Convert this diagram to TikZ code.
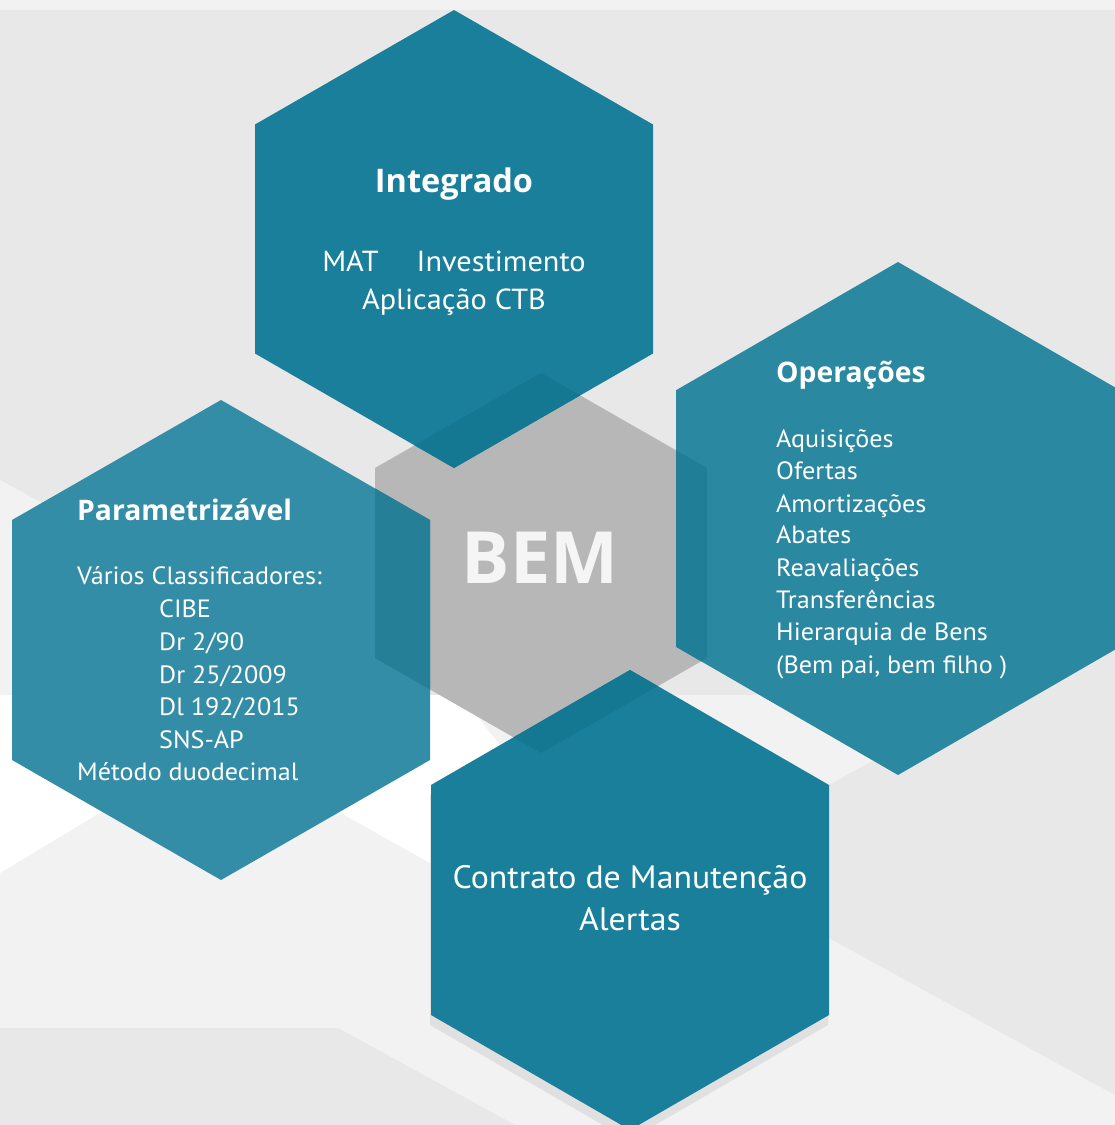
\documentclass[tikz,border=0pt]{standalone}
\usepackage{fontspec}
\setmainfont{PT Sans}[FakeStretch=1.045]
\newfontfamily\ttlfont{Open Sans}
\definecolor{bgA}{HTML}{E8E8E8}
\definecolor{bgTop}{HTML}{F2F2F2}
\definecolor{bgLight}{HTML}{F2F2F2}
\definecolor{shadowC}{HTML}{E0E0E0}
\definecolor{grayHex}{HTML}{B7B7B7}
\definecolor{tealA}{HTML}{1A7F9A}
\definecolor{tealAd}{HTML}{147893}
\definecolor{tealL}{HTML}{348DA7}
\definecolor{tealLd}{HTML}{247F97}
\definecolor{tealR}{HTML}{2A88A1}
\definecolor{tealRd}{HTML}{207F97}
\definecolor{bemText}{HTML}{F5F5F5}
\newcommand{\hexag}[4]{(#1,#2-#3) -- (#1+#4,#2-0.5*#3) -- (#1+#4,#2+0.5*#3) -- (#1,#2+#3) -- (#1-#4,#2+0.5*#3) -- (#1-#4,#2-0.5*#3) -- cycle}
\begin{document}
\begin{tikzpicture}[x=1pt,y=-1pt,
  lbl/.style={text=white, inner sep=0pt},
  ttl/.style={lbl, font=\ttlfont\bfseries\fontsize{32.5}{36}\selectfont},
  big/.style={lbl, font=\fontsize{29}{38}\selectfont},
  body/.style={lbl, font=\fontsize{25}{33}\selectfont, anchor=base west},
  bodyttl/.style={lbl, font=\ttlfont\bfseries\fontsize{28.3}{33}\selectfont, anchor=base west}]
\useasboundingbox (0,0) rectangle (1115,1125);
% background
\fill[bgA] (0,0) rectangle (1115,1125);
\fill[bgTop] (0,0) rectangle (1115,10);
\fill[bgLight] (0,695) rectangle (1115,1125);
\fill[bgLight] (0,480) -- (392,695) -- (0,695) -- cycle;
\fill[white] (0,695) -- (460,695) -- (520,770) -- (430,863) -- (216,743) -- (0,873) -- cycle;
\fill[bgA] (0,1028) -- (338,1028) -- (515,1125) -- (0,1125) -- cycle;
\fill[bgA] (829,785) -- (1005,688) -- (1115,688) -- (1115,1095) -- (829,938) -- cycle;
% shadow of bottom hexagon
\fill[shadowC] \hexag{629}{910}{230}{199};
% central grey hexagon
\fill[grayHex] \hexag{541}{563}{190}{166};
% teal hexagons
\fill[tealA] \hexag{454}{239}{229}{199};
\fill[tealL] \hexag{221}{640}{240}{209};
\fill[tealR] \hexag{898}{518.5}{256.5}{222};
\fill[tealA] \hexag{630}{900}{230}{199};
% darker overlaps with the grey hexagon
\begin{scope}
  \clip \hexag{541}{563}{190}{166};
  \fill[tealAd] \hexag{454}{239}{229}{199};
  \fill[tealLd] \hexag{221}{640}{240}{209};
  \fill[tealRd] \hexag{898}{518.5}{256.5}{222};
  \fill[tealAd] \hexag{630}{900}{230}{199};
\end{scope}
% texts
\node[lbl, font=\ttlfont\bfseries\fontsize{72}{80}\selectfont, text=bemText, anchor=base] (bem) at (540,583) {BEM};
\node[ttl, anchor=base] (tInt) at (454,192) {Integrado};
\node[big, anchor=base] (tMat) at (454,271) {MAT\hspace{38pt}Investimento};
\node[big, anchor=base] (tApl) at (454,309) {Aplicação CTB};
\node[bodyttl] (tPar) at (77,520) {Parametrizável};
\node[body] (tVar) at (77,584) {Vários Classificadores:};
\node[body] (tCibe) at (159,617) {CIBE};
\node[body] (tDr1) at (159,650) {Dr 2/90};
\node[body] (tDr2) at (159,683) {Dr 25/2009};
\node[body] (tDl) at (159,715) {Dl 192/2015};
\node[body] (tSns) at (159,748) {SNS-AP};
\node[body] (tMet) at (77,780) {Método duodecimal};
\node[bodyttl] (tOpe) at (776,382) {Operações};
\node[body] (tAq) at (776,447) {Aquisições};
\node[body] (tOf) at (776,479) {Ofertas};
\node[body] (tAm) at (776,512) {Amortizações};
\node[body] (tAb) at (776,543) {Abates};
\node[body] (tRe) at (776,576) {Reavaliações};
\node[body] (tTr) at (776,608) {Transferências};
\node[body] (tHi) at (776,640) {Hierarquia de Bens};
\node[body] (tBp) at (776,673) {(Bem pai, bem filho )};
\node[lbl, font=\fontsize{32.4}{40}\selectfont, anchor=base] (tCon) at (630,888) {Contrato de Manutenção};
\node[lbl, font=\fontsize{32.4}{40}\selectfont, anchor=base] (tAle) at (630,930) {Alertas};
\end{tikzpicture}
\end{document}
